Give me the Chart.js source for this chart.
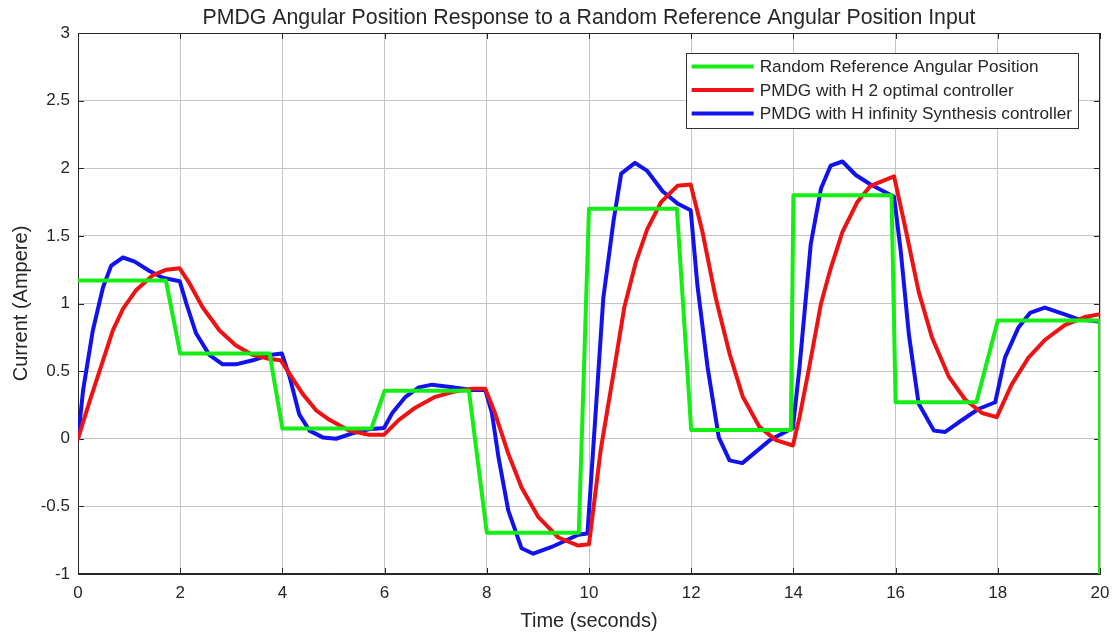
<!DOCTYPE html>
<html>
<head>
<meta charset="utf-8">
<title>PMDG Angular Position Response</title>
<script src="https://cdn.jsdelivr.net/npm/chart.js@4.4.1/dist/chart.umd.min.js"></script>
<style>
  html, body { margin: 0; padding: 0; background: #fff; }
  #chart { display: block; }
</style>
</head>
<body>
<canvas id="chart" width="1112" height="634"></canvas>
<script>
// Random reference angular position (step input)
const refT = [0, 1.72, 2.0, 3.75, 4.0, 5.74, 6.0, 7.65, 8.0, 9.8, 10.0, 11.72, 12.0, 13.95, 14.0, 15.92, 16.0, 17.58, 18.0, 20.0, 20.0];
const refV = [1.17, 1.17, 0.63, 0.63, 0.075, 0.075, 0.355, 0.355, -0.695, -0.695, 1.70, 1.70, 0.065, 0.065, 1.80, 1.80, 0.27, 0.27, 0.875, 0.875, -1.0];

// PMDG with H2 optimal controller
const h2T = [0, 0.23, 0.49, 0.68, 0.88, 1.14, 1.47, 1.73, 1.99, 2.18,
  2.44, 2.77, 3.09, 3.42, 3.75, 3.97, 4.14, 4.40, 4.66, 4.92,
  5.31, 5.69, 5.99, 6.28, 6.60, 6.99, 7.38, 7.71, 7.97, 8.16,
  8.42, 8.68, 9.01, 9.40, 9.79, 10.0, 10.23, 10.50, 10.69, 10.92,
  11.14, 11.41, 11.73, 11.99, 12.22, 12.48, 12.75, 13.01, 13.33, 13.66,
  13.99, 14.12, 14.31, 14.54, 14.73, 14.96, 15.25, 15.51, 15.97, 16.19,
  16.45, 16.71, 17.04, 17.36, 17.69, 17.98, 18.27, 18.60, 18.92, 19.31,
  19.70, 20.0];
const h2V = [0, 0.28, 0.58, 0.80, 0.96, 1.10, 1.21, 1.25, 1.26, 1.15,
  0.97, 0.80, 0.69, 0.62, 0.59, 0.58, 0.48, 0.33, 0.21, 0.14,
  0.06, 0.03, 0.03, 0.14, 0.23, 0.31, 0.35, 0.37, 0.37, 0.19,
  -0.11, -0.36, -0.58, -0.73, -0.79, -0.78, -0.08, 0.53, 0.97, 1.31,
  1.55, 1.75, 1.87, 1.88, 1.53, 1.04, 0.63, 0.31, 0.09, -0.01,
  -0.05, 0.16, 0.53, 1.0, 1.26, 1.53, 1.75, 1.87, 1.94, 1.56,
  1.09, 0.75, 0.46, 0.29, 0.19, 0.16, 0.40, 0.60, 0.73, 0.84,
  0.90, 0.92];

// PMDG with H infinity synthesis controller
const hinfT = [0, 0.10, 0.29, 0.49, 0.65, 0.88, 1.11, 1.40, 1.66, 1.99,
  2.12, 2.31, 2.57, 2.83, 3.09, 3.42, 3.75, 3.99, 4.14, 4.33,
  4.53, 4.79, 5.05, 5.37, 5.69, 5.99, 6.15, 6.41, 6.67, 6.93,
  7.32, 7.71, 7.97, 8.10, 8.23, 8.42, 8.68, 8.91, 9.27, 9.79,
  9.97, 10.11, 10.28, 10.48, 10.63, 10.90, 11.14, 11.44, 11.73, 11.99,
  12.12, 12.32, 12.54, 12.75, 13.0, 13.54, 13.99, 14.12, 14.34, 14.54,
  14.73, 14.96, 15.22, 15.51, 15.97, 16.10, 16.26, 16.45, 16.75, 16.97,
  17.23, 17.62, 17.95, 18.14, 18.40, 18.63, 18.92, 19.31, 19.57, 20.0];
const hinfV = [0, 0.36, 0.80, 1.12, 1.28, 1.34, 1.31, 1.24, 1.19, 1.165,
  1.00, 0.78, 0.62, 0.55, 0.55, 0.58, 0.62, 0.63, 0.46, 0.18,
  0.06, 0.01, 0.0, 0.04, 0.07, 0.08, 0.19, 0.31, 0.38, 0.40,
  0.38, 0.36, 0.36, 0.19, -0.14, -0.53, -0.81, -0.85, -0.80, -0.71,
  -0.70, 0.08, 1.04, 1.61, 1.96, 2.04, 1.98, 1.83, 1.74, 1.69,
  1.14, 0.53, 0.01, -0.16, -0.18, -0.01, 0.08, 0.53, 1.44, 1.85,
  2.02, 2.05, 1.95, 1.88, 1.79, 1.39, 0.77, 0.26, 0.06, 0.05,
  0.12, 0.22, 0.27, 0.60, 0.82, 0.93, 0.97, 0.92, 0.885, 0.865];

const seriesLabels = [
  'Random Reference Angular Position',
  'PMDG with H 2 optimal controller',
  'PMDG with H infinity Synthesis controller'
];
const seriesColors = ['#14ee14', '#f01212', '#1212f0'];
const chartTitle = 'PMDG Angular Position Response to a Random Reference Angular Position Input';

const FONT = "'Liberation Sans', Arial, Helvetica, sans-serif";
const TEXT = '#262626';

// Helper to zip time/value arrays into points
function toPoints(ts, vs) {
  return ts.map((t, i) => ({ x: t, y: vs[i] }));
}

// Title centred over the plot area (MATLAB places it over the axes, not the figure)
const axesTitle = {
  id: 'axesTitle',
  afterDraw(chart) {
    const { ctx, chartArea: a } = chart;
    ctx.save();
    ctx.font = '21.3px ' + FONT;
    ctx.fillStyle = TEXT;
    ctx.textAlign = 'center';
    ctx.textBaseline = 'alphabetic';
    ctx.fillText(chartTitle, (a.left + a.right) / 2, 23.5);
    ctx.restore();
  }
};

// Box around the axes with small inward ticks
const axesBox = {
  id: 'axesBox',
  beforeDatasetsDraw(chart) {
    const { ctx, chartArea: a, scales } = chart;
    ctx.save();
    ctx.strokeStyle = TEXT;
    ctx.lineWidth = 1;
    ctx.strokeRect(a.left + 0.5, a.top + 0.5, a.right - a.left - 1, a.bottom - a.top - 1);
    const len = 6;
    ctx.beginPath();
    scales.x.ticks.forEach(tk => {
      const px = Math.round(scales.x.getPixelForValue(tk.value)) + 0.5;
      ctx.moveTo(px, a.top); ctx.lineTo(px, a.top + len);
      ctx.moveTo(px, a.bottom); ctx.lineTo(px, a.bottom - len);
    });
    scales.y.ticks.forEach(tk => {
      const py = Math.round(scales.y.getPixelForValue(tk.value)) + 0.5;
      ctx.moveTo(a.left, py); ctx.lineTo(a.left + len, py);
      ctx.moveTo(a.right, py); ctx.lineTo(a.right - len, py);
    });
    ctx.stroke();
    ctx.restore();
  }
};

// Legend drawn as a boxed list in the upper right of the plot area
const boxLegend = {
  id: 'boxLegend',
  afterDraw(chart) {
    const { ctx, chartArea: a } = chart;
    const sets = chart.data.datasets;
    ctx.save();
    ctx.font = '17.2px ' + FONT;
    const textW = Math.max(...sets.map(d => ctx.measureText(d.label).width));
    const rowH = 23.5;
    const w = 74 + textW + 6;
    const h = 75;
    const x0 = a.right - 22 - w;
    const y0 = a.top + 20;
    ctx.fillStyle = '#fff';
    ctx.fillRect(x0, y0, w, h);
    ctx.strokeStyle = '#333';
    ctx.lineWidth = 1;
    ctx.strokeRect(Math.round(x0) + 0.5, Math.round(y0) + 0.5, Math.round(w), Math.round(h));
    sets.forEach((d, i) => {
      const cy = y0 + 13.5 + i * rowH;
      ctx.strokeStyle = d.borderColor;
      ctx.lineWidth = 4;
      ctx.beginPath();
      ctx.moveTo(x0 + 6, cy);
      ctx.lineTo(x0 + 68, cy);
      ctx.stroke();
      ctx.fillStyle = TEXT;
      ctx.textBaseline = 'middle';
      ctx.textAlign = 'left';
      ctx.fillText(d.label, x0 + 74, cy + 1);
    });
    ctx.restore();
  }
};

const ctx = document.getElementById('chart').getContext('2d');
const chart = new Chart(ctx, {
  type: 'line',
  data: {
    datasets: [
      { label: seriesLabels[0], data: toPoints(refT, refV), borderColor: seriesColors[0] },
      { label: seriesLabels[1], data: toPoints(h2T, h2V), borderColor: seriesColors[1] },
      { label: seriesLabels[2], data: toPoints(hinfT, hinfV), borderColor: seriesColors[2] }
    ]
  },
  options: {
    responsive: false,
    animation: false,
    devicePixelRatio: 1,
    layout: { padding: { left: 0, right: 12, top: 33, bottom: 0 } },
    elements: {
      line: { borderWidth: 4, tension: 0, borderJoinStyle: 'round', borderCapStyle: 'round', fill: false },
      point: { radius: 0, hoverRadius: 0 }
    },
    plugins: {
      legend: { display: false },
      tooltip: { enabled: false },
      title: { display: false }
    },
    scales: {
      x: {
        type: 'linear',
        min: 0,
        max: 20,
        ticks: { stepSize: 2, color: TEXT, padding: 9, font: { family: FONT, size: 17 } },
        grid: { color: '#c4c4c4', lineWidth: 1, drawTicks: false },
        border: { display: true, color: TEXT },
        title: {
          display: true,
          text: 'Time (seconds)',
          color: TEXT,
          font: { family: FONT, size: 20 },
          padding: { top: 0, bottom: 1 }
        },
        afterFit(scale) {
          scale.height = 60;
          // the "20" label may hang past the plot edge, as in the original
          scale.paddingLeft = 0;
          scale.paddingRight = 0;
        }
      },
      y: {
        min: -1,
        max: 3,
        ticks: {
          stepSize: 0.5,
          color: TEXT,
          padding: 8,
          font: { family: FONT, size: 17 },
          callback: v => String(Number(v.toFixed(2)))
        },
        grid: { color: '#c4c4c4', lineWidth: 1, drawTicks: false },
        border: { display: true, color: TEXT },
        title: {
          display: true,
          text: 'Current (Ampere)',
          color: TEXT,
          font: { family: FONT, size: 20 },
          padding: { top: 9, bottom: 0 }
        },
        afterFit(scale) {
          scale.width = 78;
          scale.paddingTop = 0;
          scale.paddingBottom = 0;
        }
      }
    }
  },
  plugins: [axesBox, boxLegend, axesTitle]
});
</script>
</body>
</html>
